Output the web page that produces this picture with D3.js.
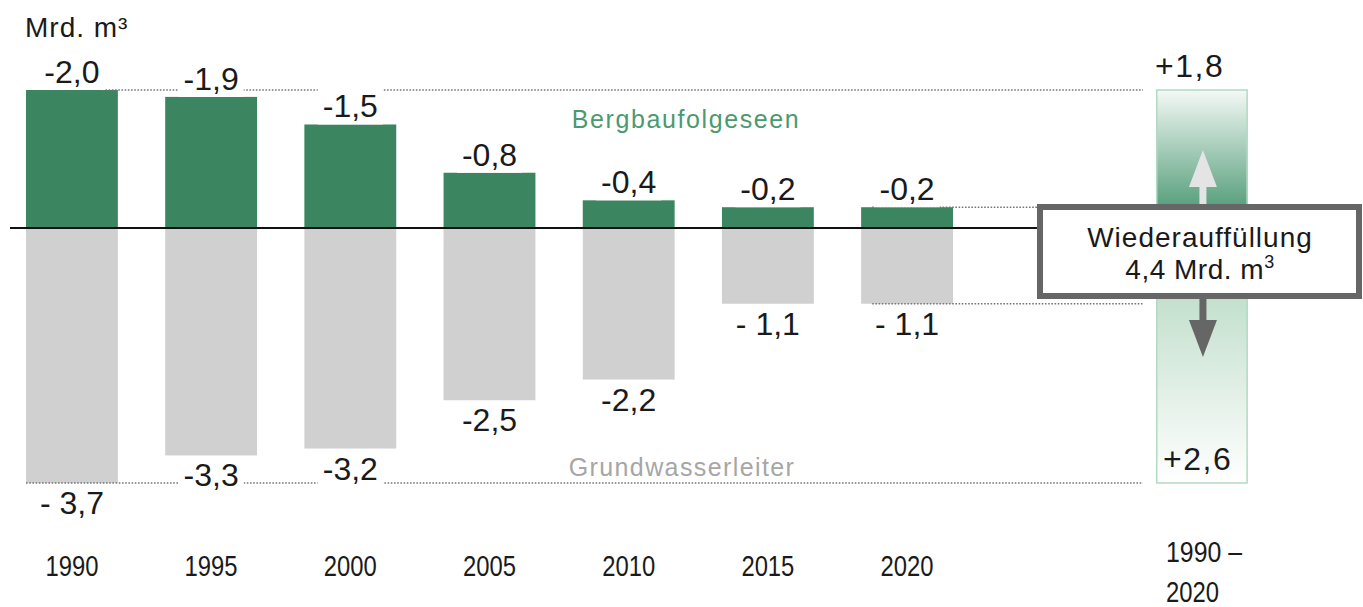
<!DOCTYPE html>
<html lang="de">
<head>
<meta charset="utf-8">
<title>Wasserdefizit Bergbaufolgeseen / Grundwasserleiter</title>
<script src="https://d3js.org/d3.v7.min.js"></script>
<style>
  body { margin: 0; background: #fff; }
  svg text { font-family: "Liberation Sans", Arial, sans-serif; fill: #1a1a1a; }
  .val { font-size: 32px; }
  .year { font-size: 29px; }
</style>
</head>
<body>
<script>
// data (Mrd. m3)
const years = ["1990", "1995", "2000", "2005", "2010", "2015", "2020"];
const lakes = [-2.0, -1.9, -1.5, -0.8, -0.4, -0.3, -0.3];      // Bergbaufolgeseen (bar heights as drawn)
const lakeLabels = ["-2,0", "-1,9", "-1,5", "-0,8", "-0,4", "-0,2", "-0,2"];
const aquifer = [-3.7, -3.3, -3.2, -2.5, -2.2, -1.1, -1.1];    // Grundwasserleiter
const aquiferLabels = ["- 3,7", "-3,3", "-3,2", "-2,5", "-2,2", "- 1,1", "- 1,1"];
const totalLabel = ["1990 –", "2020"];
const refillLake = "+1,8";
const refillAquifer = "+2,6";

const w = 1363, h = 607;
const green = "#3b8660", grey = "#d0d0d0";

const svg = d3.select("body").append("svg")
    .attr("width", w)
    .attr("height", h);

const x = d3.scaleBand()
    .domain(years)
    .range([26, 953])
    .paddingInner(0.34)
    .paddingOuter(0);

const y = d3.scaleLinear()
    .domain([-3.7, 2.0])
    .range([483, 90]);

const bw = x.bandwidth();
const xTot = 1156; // summary column left edge
const lineEnd = 1143;
const yearW = 53; // the original year font is narrow

// gradients for the summary column
const defs = svg.append("defs");
const gUp = defs.append("linearGradient").attr("id", "gUp").attr("x1", 0).attr("x2", 0).attr("y1", 0).attr("y2", 1);
gUp.append("stop").attr("offset", "0%").attr("stop-color", "#f4f9f6");
gUp.append("stop").attr("offset", "100%").attr("stop-color", "#3d9068");
const gDown = defs.append("linearGradient").attr("id", "gDown").attr("x1", 0).attr("x2", 0).attr("y1", 0).attr("y2", 1);
gDown.append("stop").attr("offset", "0%").attr("stop-color", "#c2dfcc");
gDown.append("stop").attr("offset", "100%").attr("stop-color", "#ffffff");

const rows = years.map((yr, i) => ({ yr, lake: lakes[i], aq: aquifer[i], ll: lakeLabels[i], al: aquiferLabels[i] }));

// bars
svg.selectAll("rect.lake").data(rows).enter().append("rect")
    .attr("class", "lake")
    .attr("x", d => x(d.yr))
    .attr("width", bw)
    .attr("y", d => y(Math.abs(d.lake)))
    .attr("height", d => y(0) - y(Math.abs(d.lake)))
    .attr("fill", green);

svg.selectAll("rect.aq").data(rows).enter().append("rect")
    .attr("class", "aq")
    .attr("x", d => x(d.yr))
    .attr("width", bw)
    .attr("y", y(0))
    .attr("height", d => y(-Math.abs(d.aq)) - y(0))
    .attr("fill", grey);

// dotted reference lines
const first = rows[0], last = rows[rows.length - 1];
const refs = [
    { v: Math.abs(first.lake), from: x(first.yr) + bw * 0.83 },
    { v: Math.abs(last.lake), from: x(last.yr) + bw * 0.12 },
    { v: -Math.abs(last.aq), from: x(last.yr) + bw * 0.12 },
    { v: -Math.abs(first.aq), from: x(first.yr) }
];
svg.selectAll("line.ref").data(refs).enter().append("line")
    .attr("class", "ref")
    .attr("x1", d => d.from).attr("x2", lineEnd)
    .attr("y1", d => y(d.v)).attr("y2", d => y(d.v))
    .attr("stroke", "#777")
    .attr("stroke-width", 1.6)
    .attr("stroke-dasharray", "1.6 1.6");

// value labels with white knock-out
function knockLabel(sel) {
    sel.each(function () {
        const b = this.getBBox();
        d3.select(this.parentNode).insert("rect", () => this)
            .attr("x", b.x - 5).attr("y", b.y)
            .attr("width", b.width + 10).attr("height", b.height)
            .attr("fill", "#fff");
    });
}

const lakeLab = svg.selectAll("g.ll").data(rows).enter().append("g").attr("class", "ll");
lakeLab.append("text")
    .attr("class", "val")
    .attr("x", d => x(d.yr) + bw / 2)
    .attr("y", d => y(Math.abs(d.lake)) - 7)
    .attr("text-anchor", "middle")
    .text(d => d.ll)
    .call(knockLabel);

const aqLab = svg.selectAll("g.al").data(rows).enter().append("g").attr("class", "al");
aqLab.append("text")
    .attr("class", "val")
    .attr("x", d => x(d.yr) + bw / 2)
    .attr("y", d => y(-Math.abs(d.aq)) + 31)
    .attr("text-anchor", "middle")
    .text(d => d.al)
    .call(knockLabel);

// year labels
svg.selectAll("text.year").data(rows).enter().append("text")
    .attr("class", "year")
    .attr("x", d => x(d.yr) + bw / 2)
    .attr("y", 576)
    .attr("text-anchor", "middle")
    .attr("textLength", yearW)
    .attr("lengthAdjust", "spacingAndGlyphs")
    .text(d => d.yr);

// series names
svg.append("text")
    .attr("x", 686).attr("y", 128)
    .attr("text-anchor", "middle")
    .style("font-size", "25px").style("letter-spacing", "1.6px")
    .style("fill", "#4a9a70")
    .text("Bergbaufolgeseen");

svg.append("text")
    .attr("x", 682).attr("y", 476)
    .attr("text-anchor", "middle")
    .style("font-size", "25px").style("letter-spacing", "1.4px")
    .style("fill", "#a6a6a6")
    .text("Grundwasserleiter");

// unit
svg.append("text")
    .attr("x", 25).attr("y", 37)
    .style("font-size", "28px").style("letter-spacing", "1px")
    .text("Mrd. m³");

// summary column 1990-2020
const topLake = Math.abs(first.lake), lastLake = Math.abs(last.lake);
const topAq = -Math.abs(last.aq), botAq = -Math.abs(first.aq);
svg.append("rect")
    .attr("x", xTot).attr("width", bw)
    .attr("y", y(topLake)).attr("height", y(lastLake) - y(topLake) + 20)
    .attr("fill", "url(#gUp)");
svg.append("rect")
    .attr("x", xTot).attr("width", bw)
    .attr("y", y(topAq) - 10).attr("height", y(botAq) - y(topAq) + 10)
    .attr("fill", "url(#gDown)");
svg.append("rect")
    .attr("x", xTot + 0.75).attr("width", bw - 1.5)
    .attr("y", y(topLake)).attr("height", y(botAq) - y(topLake))
    .attr("fill", "none")
    .attr("stroke", "#b4d9c3").attr("stroke-width", 1.5);

svg.append("text")
    .attr("class", "val")
    .attr("x", xTot - 1).attr("y", 77)
    .style("letter-spacing", "1.5px")
    .text(refillLake);

svg.append("text")
    .attr("class", "val")
    .attr("x", xTot + 7).attr("y", 470)
    .style("letter-spacing", "1.5px")
    .text(refillAquifer);

svg.append("text").attr("class", "year").attr("x", 1166).attr("y", 562)
    .attr("textLength", 76).attr("lengthAdjust", "spacingAndGlyphs").text(totalLabel[0]);
svg.append("text").attr("class", "year").attr("x", 1166).attr("y", 602)
    .attr("textLength", yearW).attr("lengthAdjust", "spacingAndGlyphs").text(totalLabel[1]);

// baseline
svg.append("line")
    .attr("x1", 10).attr("x2", 1040)
    .attr("y1", y(0)).attr("y2", y(0))
    .attr("stroke", "#111").attr("stroke-width", 2);

// arrows
const ax = xTot + bw / 2 + 1;
svg.append("rect").attr("x", ax - 3.5).attr("y", 185).attr("width", 7).attr("height", 22).attr("fill", "#e4e4e4");
svg.append("path").attr("d", d3.line()([[ax - 14, 187], [ax + 14, 187], [ax, 150]])).attr("fill", "#e4e4e4");
svg.append("rect").attr("x", ax - 3.5).attr("y", 296).attr("width", 7).attr("height", 26).attr("fill", "#666");
svg.append("path").attr("d", d3.line()([[ax - 14, 320], [ax + 14, 320], [ax, 357]])).attr("fill", "#666");

// info box
svg.append("rect")
    .attr("x", 1040).attr("y", 207)
    .attr("width", 319).attr("height", 89)
    .attr("fill", "#fff")
    .attr("stroke", "#666").attr("stroke-width", 6);

svg.append("text")
    .attr("x", 1200).attr("y", 247)
    .attr("text-anchor", "middle")
    .style("font-size", "28px").style("letter-spacing", "1px")
    .text("Wiederauffüllung");

const t = svg.append("text")
    .attr("x", 1200).attr("y", 279)
    .attr("text-anchor", "middle")
    .style("font-size", "28px").style("letter-spacing", "0.5px");
t.append("tspan").text("4,4 Mrd. m");
t.append("tspan").attr("dy", -11).style("font-size", "18px").text("3");
</script>
</body>
</html>
